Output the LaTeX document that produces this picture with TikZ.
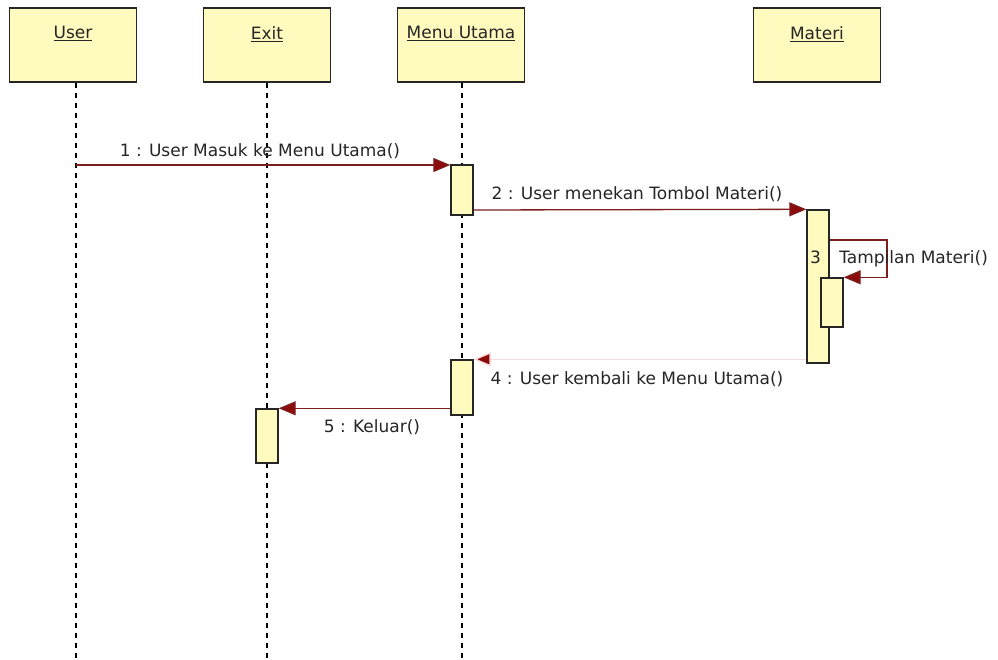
\documentclass[tikz,border=0pt]{standalone}
\usepackage{fontspec}
\setmainfont{DejaVu Sans}
\usetikzlibrary{arrows.meta}
\definecolor{boxfill}{RGB}{255,250,190}
\definecolor{msgred}{RGB}{125,30,30}
\definecolor{tipred}{RGB}{140,10,10}
\definecolor{retpink}{RGB}{248,218,218}
\begin{document}
\begin{tikzpicture}[x=1pt,y=-1pt,
  every node/.style={font=\fontsize{17}{20}\selectfont, text=black!85},
  head/.style={draw=black!85, line width=1.4pt, fill=boxfill, minimum width=127pt, minimum height=74pt, inner sep=0pt},
  headtitle/.style={anchor=north, yshift=-19pt, inner sep=0pt},
  act/.style={draw=black!85, line width=1.4pt, fill=boxfill, minimum width=22pt, inner sep=0pt},
  life/.style={draw=black, line width=1.4pt, dash pattern=on 5pt off 5pt},
  msg/.style={draw=msgred, line width=1.3pt, -{Triangle[length=17pt, width=14pt, fill=tipred]}},
  ret/.style={draw=retpink, line width=1.3pt, -{Triangle[length=17pt, width=14pt, fill=tipred]}},
  lbl/.style={inner sep=0pt}]
\useasboundingbox (0,0) rectangle (998,660);
\fill[white] (0,0) rectangle (998,660);
% heads
\node[head, label={[headtitle]north:\underline{User}}] (user) at (73,45) {};
\node[head, label={[headtitle]north:\underline{Exit}}] (exit) at (267,45) {};
\node[head, label={[headtitle]north:\underline{Menu Utama}}] (menu) at (461,45) {};
\node[head, label={[headtitle]north:\underline{Materi}}] (materi) at (817,45) {};
% lifelines
\coordinate (userend) at (76,660);
\coordinate (exitend) at (267,660);
\coordinate (menuend) at (462,660);
\draw[life] (user.south -| userend) -- (userend);
\draw[life] (exit.south) -- (exitend);
\draw[life] (menu.south -| menuend) -- (menuend);
% activations
\node[act, minimum height=50pt] (a1) at (462,190) {};
\node[act, minimum height=153pt] (a2) at (818,286.5) {};
\node[act, minimum height=49pt] (a3) at (832,302.5) {};
\node[act, minimum height=55pt] (a4) at (462,387.5) {};
\node[act, minimum height=54pt] (a5) at (267,436) {};
% messages
\coordinate (u1) at (76,165);
\draw[msg] (u1) -- (u1 -| a1.west);
\node[lbl] (l1) at (260,151) {1 : User Masuk ke Menu Utama()};
\draw[msg] (a1.east |- 0,210) -- (a2.north west);
\node[lbl] (l2) at (637,194) {2 : User menekan Tombol Materi()};
\coordinate (loop) at (887,240);
\draw[msg] (a2.east |- loop) -- (loop) -- (loop |- a3.north) -- (a3.north east);
\node[lbl, anchor=west] (l3) at (810,259) {3 : Tampilan Materi()};
\draw[ret] (a2.west |- a4.north) -- (a4.north east);
\node[lbl] (l4) at (637,379) {4 : User kembali ke Menu Utama()};
\draw[msg] (a4.west |- a5.north) -- (a5.north east);
\node[lbl] (l5) at (372,427) {5 : Keluar()};
\end{tikzpicture}
\end{document}
